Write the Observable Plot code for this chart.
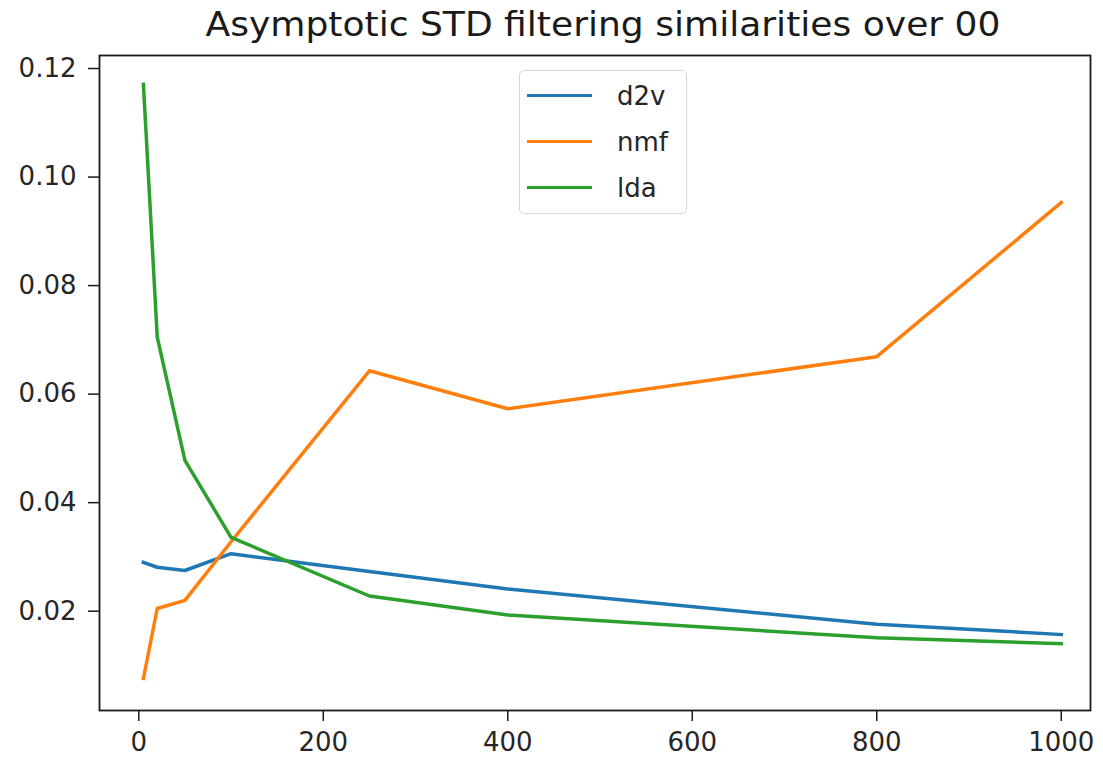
<!DOCTYPE html>
<html><head><meta charset="utf-8">
<script src="https://cdn.jsdelivr.net/npm/d3@7"></script>
<script src="https://cdn.jsdelivr.net/npm/@observablehq/plot@0.6"></script>
<style>
body{margin:0;background:#fff;}
#wrap{position:relative;width:1103px;height:762px;font-family:"DejaVu Sans",sans-serif;}
#legend{position:absolute;left:519px;top:70px;width:168px;height:144px;border:1.5px solid #d6d6d6;border-radius:5px;background:rgba(255,255,255,0.8);box-sizing:border-box;}
.row{position:absolute;left:0;height:30px;}
.sw{position:absolute;left:7px;width:65px;height:0;border-top:3.5px solid;}
.lab{position:absolute;left:97px;font-size:26px;color:#262626;white-space:nowrap;line-height:30px;}
</style>
</head><body><div id="wrap"></div>
<script>
const title = "Asymptotic STD filtering similarities over 00";
const xs = [5, 20, 50, 100, 250, 400, 800, 1000];
const d2v = [0.0290, 0.0281, 0.0275, 0.0306, 0.0273, 0.0241, 0.0176, 0.0157];
const nmf = [0.0076, 0.0205, 0.0220, 0.0328, 0.0643, 0.0573, 0.0669, 0.0953];
const lda = [0.1171, 0.0705, 0.0478, 0.0336, 0.0228, 0.0193, 0.0151, 0.0140];
const seriesNames = ["d2v", "nmf", "lda"];
const seriesColors = ["#1f77b4", "#ff7f0e", "#2ca02c"];
const xTicks = [0, 200, 400, 600, 800, 1000];
const yTicks = [0.02, 0.04, 0.06, 0.08, 0.10, 0.12];

const seriesVals = [d2v, nmf, lda];
const data = [];
seriesNames.forEach((s, i) => xs.forEach((x, j) => data.push({series: s, x, y: seriesVals[i][j]})));

const chart = Plot.plot({
  width: 1103,
  height: 762,
  marginLeft: 99,
  marginRight: 13,
  marginTop: 55,
  marginBottom: 52,
  style: {fontFamily: "DejaVu Sans, sans-serif", fontSize: "26px", color: "#262626", background: "#fff"},
  x: {domain: [-42.6, 1031.7]},
  y: {domain: [0.0017, 0.1224]},
  color: {domain: seriesNames, range: seriesColors},
  marks: [
    Plot.line(data, {x: "x", y: "y", z: "series", stroke: "series", strokeWidth: 3.5, strokeLinejoin: "round", strokeLinecap: "square"}),
    Plot.frame({stroke: "#1a1a1a", strokeWidth: 1.8}),
    Plot.axisX({ticks: xTicks, tickSize: 11, tickPadding: 11, tickFormat: d => String(d), label: null, stroke: "#1a1a1a", strokeWidth: 1.5}),
    Plot.axisY({ticks: yTicks, tickSize: 11, tickPadding: 12, tickFormat: d => d.toFixed(2), label: null, stroke: "#1a1a1a", strokeWidth: 1.5}),
    Plot.text([title], {frameAnchor: "top", lineAnchor: "middle", dy: -30, dx: 8, fontSize: 33, fill: "#1a1a1a", text: d => d, className: "ttl"})
  ]
});
const wrap = document.getElementById("wrap");
wrap.appendChild(chart);
chart.querySelectorAll(".ttl text").forEach(t => {
  t.setAttribute("textLength", "795");
  t.setAttribute("lengthAdjust", "spacingAndGlyphs");
});

const leg = document.createElement("div");
leg.id = "legend";
seriesNames.forEach((s, i) => {
  const row = document.createElement("div");
  row.className = "row";
  row.style.top = (10 + i * 46) + "px";
  row.style.width = "100%";
  const sw = document.createElement("div");
  sw.className = "sw";
  sw.style.borderTopColor = seriesColors[i];
  sw.style.top = "13px";
  const lab = document.createElement("div");
  lab.className = "lab";
  lab.textContent = s;
  lab.style.top = "0px";
  row.appendChild(sw);
  row.appendChild(lab);
  leg.appendChild(row);
});
wrap.appendChild(leg);
</script>
</body></html>
